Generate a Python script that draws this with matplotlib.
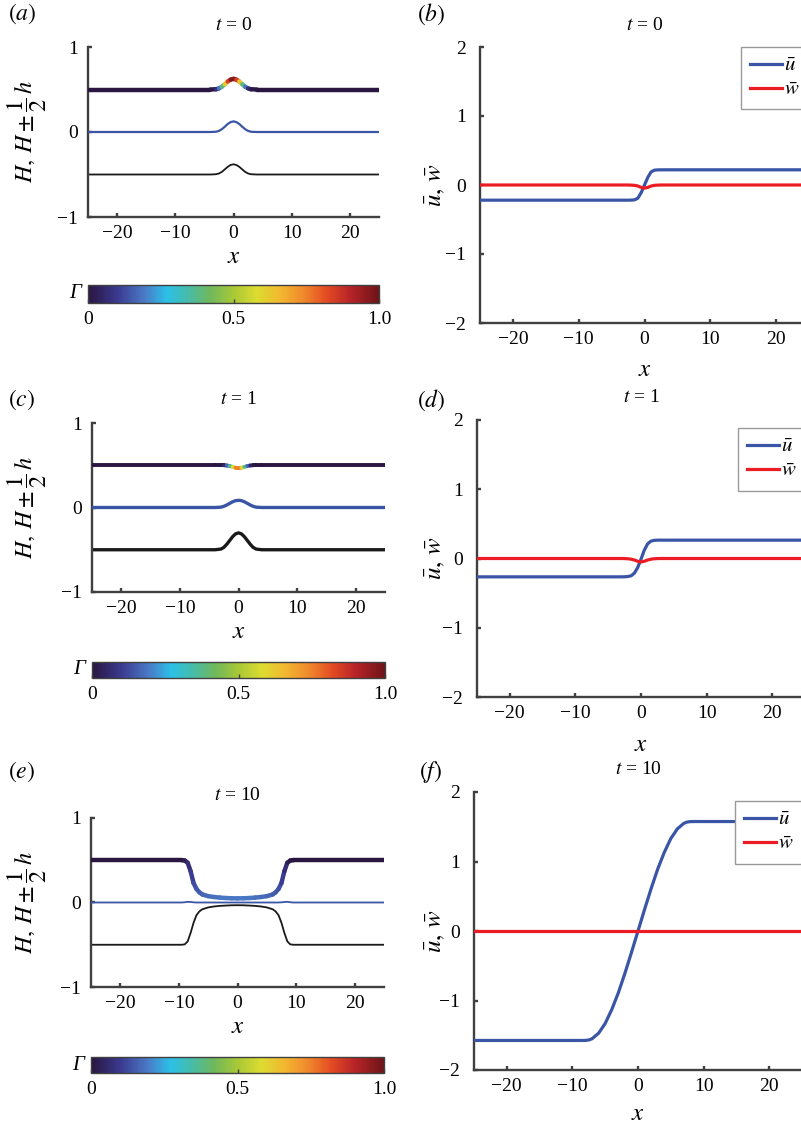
import numpy as np
import matplotlib
matplotlib.use('Agg')
import matplotlib.pyplot as plt
from matplotlib.collections import LineCollection
from matplotlib.colors import LinearSegmentedColormap, Normalize
from matplotlib.cm import ScalarMappable

plt.rcParams['font.family'] = ['Liberation Serif', 'DejaVu Serif']
plt.rcParams['mathtext.fontset'] = 'stix'

W, H = 801, 1123

# ---------------- data ----------------
# (a) t = 0 : interface heights and surfactant Gamma on the upper one
xa = [-25, -4, -3, -2.5, -2, -1.5, -1, -0.5, 0, 0.5, 1, 1.5, 2, 2.5, 3, 4, 25]
top_a = [0.5, 0.5, 0.503, 0.513, 0.533, 0.562, 0.594, 0.616, 0.625, 0.616, 0.594, 0.562, 0.533, 0.513, 0.503, 0.5, 0.5]
mid_a = [0, 0, 0.003, 0.013, 0.033, 0.062, 0.094, 0.116, 0.125, 0.116, 0.094, 0.062, 0.033, 0.013, 0.003, 0, 0]
low_a = [-0.5, -0.5, -0.497, -0.488, -0.469, -0.44, -0.41, -0.388, -0.38, -0.388, -0.41, -0.44, -0.469, -0.488, -0.497, -0.5, -0.5]
gam_a = [0, 0, 0.03, 0.11, 0.27, 0.5, 0.75, 0.93, 1.0, 0.93, 0.75, 0.5, 0.27, 0.11, 0.03, 0, 0]

# (c) t = 1
xc = [-25, -4, -3, -2.5, -2, -1.5, -1, -0.5, 0, 0.5, 1, 1.5, 2, 2.5, 3, 4, 25]
top_c = [0.5, 0.5, 0.5, 0.5, 0.497, 0.491, 0.481, 0.47, 0.465, 0.47, 0.481, 0.491, 0.497, 0.5, 0.5, 0.5, 0.5]
mid_c = [0, 0, 0.004, 0.014, 0.03, 0.049, 0.068, 0.081, 0.085, 0.081, 0.068, 0.049, 0.03, 0.014, 0.004, 0, 0]
low_c = [-0.5, -0.5, -0.492, -0.472, -0.435, -0.39, -0.345, -0.312, -0.3, -0.312, -0.345, -0.39, -0.435, -0.472, -0.492, -0.5, -0.5]
gam_c = [0, 0, 0, 0.02, 0.08, 0.25, 0.48, 0.7, 0.8, 0.7, 0.48, 0.25, 0.08, 0.02, 0, 0, 0]

# (e) t = 10
xe = [-25, -9.5, -9, -8.5, -8, -7.5, -7, -6.5, -6, -5, -4, -3, -2, -1, 0,
      1, 2, 3, 4, 5, 6, 6.5, 7, 7.5, 8, 8.5, 9, 9.5, 25]
top_e = [0.5, 0.5, 0.497, 0.47, 0.37, 0.23, 0.16, 0.12, 0.095, 0.075, 0.065, 0.058, 0.053, 0.05, 0.049,
         0.05, 0.053, 0.058, 0.065, 0.075, 0.095, 0.12, 0.16, 0.23, 0.37, 0.47, 0.497, 0.5, 0.5]
mid_e = [0, 0, 0.003, 0.008, 0.006, 0.002, 0, 0, 0, 0, 0, 0, 0, 0, 0,
         0, 0, 0, 0, 0, 0, 0, 0, 0.002, 0.006, 0.008, 0.003, 0, 0]
low_e = [-0.5, -0.5, -0.495, -0.46, -0.36, -0.24, -0.15, -0.105, -0.08, -0.058, -0.047, -0.04, -0.036, -0.033, -0.032,
         -0.033, -0.036, -0.04, -0.047, -0.058, -0.08, -0.105, -0.15, -0.24, -0.36, -0.46, -0.495, -0.5, -0.5]
gam_e = [0, 0, 0.01, 0.05, 0.09, 0.12, 0.14, 0.15, 0.16, 0.17, 0.18, 0.185, 0.19, 0.19, 0.19,
         0.19, 0.19, 0.185, 0.18, 0.17, 0.16, 0.15, 0.14, 0.12, 0.09, 0.05, 0.01, 0, 0]

# (b) t = 0 : mean velocities
xb = [-25, -3, -2.5, -2, -1.5, -1, -0.5, 0, 0.5, 1, 1.5, 2, 2.5, 3, 25]
u_b = [-0.22, -0.22, -0.22, -0.219, -0.215, -0.19, -0.11, 0.0, 0.11, 0.19, 0.215, 0.219, 0.22, 0.22, 0.22]
w_b = [0, 0, 0, -0.002, -0.005, -0.015, -0.035, -0.045, -0.035, -0.015, -0.005, -0.002, 0, 0, 0]

# (d) t = 1
xd = [-25, -3, -2.5, -2, -1.5, -1, -0.5, 0, 0.5, 1, 1.5, 2, 2.5, 3, 25]
u_d = [-0.265, -0.265, -0.264, -0.26, -0.25, -0.21, -0.13, -0.01, 0.12, 0.21, 0.25, 0.262, 0.265, 0.265, 0.265]
w_d = [0, 0, -0.001, -0.004, -0.01, -0.022, -0.04, -0.05, -0.04, -0.022, -0.01, -0.004, -0.001, 0, 0]

# (f) t = 10
xf = [-25, -8.5, -8, -7.5, -7, -6, -5, -4, -3, -2, -1, 0, 1, 2, 3, 4, 5, 6, 7, 7.5, 8, 8.5, 25]
u_f = [-1.575, -1.575, -1.574, -1.568, -1.55, -1.47, -1.33, -1.13, -0.89, -0.61, -0.31, 0,
       0.31, 0.61, 0.89, 1.13, 1.33, 1.47, 1.55, 1.568, 1.574, 1.575, 1.575]
xf_w = [-25, 25]
w_f = [0, 0]

# ---------------- style ----------------
AX = '#404040'
BLUE = '#3a55a6'
RED = '#ec1c24'
cmap = LinearSegmentedColormap.from_list('gam', [
    (0.0, '#2a1640'), (0.1, '#3a3a90'), (0.19, '#4a78c4'), (0.27, '#2cc0e8'),
    (0.34, '#44bcac'), (0.42, '#70b85c'), (0.5, '#a8c836'), (0.58, '#dcdc30'),
    (0.66, '#f2b830'), (0.74, '#f08a2c'), (0.82, '#e44c22'), (0.9, '#b82428'),
    (1.0, '#6e1418')])
norm = Normalize(0, 1)

fig = plt.figure(figsize=(W / 100, H / 100), dpi=100)


def axes_px(l, r, t, b):
    return fig.add_axes([l / W, 1 - b / H, (r - l) / W, (b - t) / H])


def style(ax, ylim, yticks, ypad):
    ax.set_xlim(-25, 25)
    ax.set_ylim(*ylim)
    ax.set_xticks([-20, -10, 0, 10, 20])
    ax.set_yticks(yticks)
    for s in ['top', 'right']:
        ax.spines[s].set_visible(False)
    for s in ['left', 'bottom']:
        ax.spines[s].set_color(AX)
        ax.spines[s].set_linewidth(1.7)
    ax.tick_params(direction='in', length=3, width=1.7, color=AX, labelsize=14)
    ax.tick_params(axis='y', pad=ypad)
    ax.tick_params(axis='x', pad=6)


def gamma_line(ax, x, y, g, lw):
    pts = np.column_stack([x, y])
    segs = np.stack([pts[:-1], pts[1:]], axis=1)
    g = np.asarray(g, dtype=float)
    lc = LineCollection(segs, cmap=cmap, norm=norm, linewidths=lw,
                        capstyle='round', joinstyle='round', zorder=4)
    lc.set_array((g[:-1] + g[1:]) / 2)
    ax.add_collection(lc)


def ptext(x, y, s, **kw):
    fig.text(x / W, 1 - y / H, s, ha='center', va='center', **kw)


def left_panel(box, cbox, x, top, mid, low, gam, lws, title, tag, tag_y, title_y):
    l, r, t, b = box
    ax = axes_px(l, r, t, b)
    style(ax, (-1, 1), [-1, 0, 1], 7)
    ax.plot(x, low, color='#1a1a1a', lw=lws[2], zorder=2)
    ax.plot(x, mid, color=BLUE, lw=lws[1], zorder=3)
    gamma_line(ax, x, top, gam, lws[0])
    ax.set_ylabel(r'$H,\,H \pm \dfrac{1}{2}\,h$', fontsize=17.5, va='center')
    ax.yaxis.set_label_coords((27 - l) / (r - l), 0.5)
    ax.set_xlabel(r'$x$', fontsize=18, va='center')
    ax.xaxis.set_label_coords(0.5, -40 / (b - t))
    ptext((l + r) / 2, title_y, title, fontsize=14)
    ptext(22, tag_y, tag, fontsize=17)

    cl, cr, ct, cb_ = cbox
    cax = axes_px(cl, cr, ct, cb_)
    cb = fig.colorbar(ScalarMappable(norm=norm, cmap=cmap), cax=cax,
                      orientation='horizontal', ticks=[0, 0.5, 1])
    cb.ax.set_xticklabels(['0', '0.5', '1.0'])
    cb.ax.tick_params(direction='in', length=3, width=1, color=AX, labelsize=14, pad=6)
    cb.outline.set_edgecolor(AX)
    cb.outline.set_linewidth(1)
    cax.text(-0.025, 0.5, 'Γ', transform=cax.transAxes, ha='right', va='center',
             fontsize=15, fontstyle='italic')


def right_panel(box, x_u, u, x_w, w, title, tag, tag_y, title_y, leg_top, xlab_y):
    l, r, t, b = box
    ax = axes_px(l, r, t, b)
    style(ax, (-2, 2), [-2, -1, 0, 1, 2], 10)
    ax.plot(x_u, u, color=BLUE, lw=2.3, label=r'$\bar{u}$', zorder=3)
    ax.plot(x_w, w, color=RED, lw=2.3, label=r'$\bar{w}$', zorder=3)
    ax.set_ylabel(r'$\bar{u},\,\bar{w}$', fontsize=18, va='center')
    ax.yaxis.set_label_coords((435 - l) / (r - l), 0.5)
    ax.set_xlabel(r'$x$', fontsize=18, va='center')
    ax.xaxis.set_label_coords(0.5, (b - xlab_y) / (b - t))
    leg = ax.legend(loc='upper left', bbox_to_anchor=(261 / (r - l), (b - leg_top) / (b - t)),
                    borderaxespad=0, fontsize=15, handlelength=1.5, handletextpad=0.1,
                    labelspacing=0.22, borderpad=0.45, fancybox=False, framealpha=1)
    leg.get_frame().set_edgecolor('#9a9a9a')
    leg.get_frame().set_linewidth(1)
    ptext(l + 25 * (r - l) / 50, title_y, title, fontsize=14)
    ptext(431, tag_y, tag, fontsize=17)


# left column
left_panel((88, 379, 47, 217), (88, 379, 285, 303), xa, top_a, mid_a, low_a, gam_a,
           (3.2, 1.6, 1.3), r'$t$ = 0', r'$(a)$', 14, 26)
left_panel((92, 385, 423, 592), (92, 385, 662, 678), xc, top_c, mid_c, low_c, gam_c,
           (2.8, 2.4, 2.4), r'$t$ = 1', r'$(c)$', 400, 400)
left_panel((91, 384, 818, 987), (91, 384, 1057, 1073), xe, top_e, mid_e, low_e, gam_e,
           (3.2, 1.3, 1.3), r'$t$ = 10', r'$(e)$', 772, 796)

# right column (axes run past the right edge of the page)
right_panel((480, 809, 47, 323), xb, u_b, xb, w_b, r'$t$ = 0', r'$(b)$', 14, 25, 47, 370)
right_panel((477, 805, 420, 697), xd, u_d, xd, w_d, r'$t$ = 1', r'$(d)$', 400, 398, 428, 745)
right_panel((474, 802, 792, 1070), xf, u_f, xf_w, w_f, r'$t$ = 10', r'$(f)$', 772, 770, 801, 1114)

fig.savefig('out.png', dpi=100)
